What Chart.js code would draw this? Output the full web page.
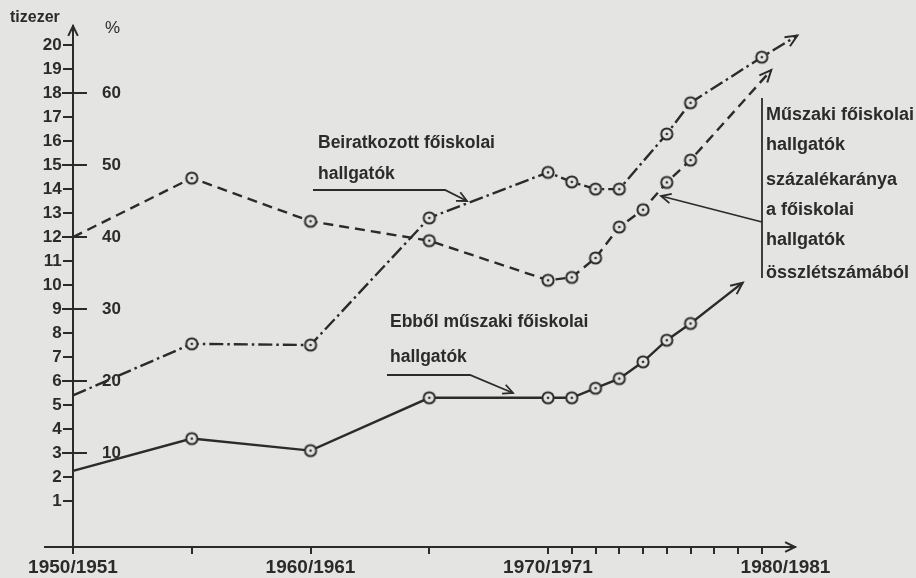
<!DOCTYPE html>
<html>
<head>
<meta charset="utf-8">
<script src="https://cdn.jsdelivr.net/npm/chart.js@4.4.0/dist/chart.umd.min.js"></script>
<style>
  html, body { margin: 0; padding: 0; background: #e4e4e2; }
</style>
</head>
<body>
<canvas id="chart" width="916" height="578"></canvas>
<script>
// Beiratkozott főiskolai hallgatók (tízezer fő), last entry = trend arrow tip
const totalYears = [1950, 1955, 1960, 1965, 1970, 1971, 1972, 1973, 1975, 1976, 1979, 1980.5];
const totalStudents = [5.4, 7.55, 7.5, 12.8, 14.7, 14.3, 14.0, 14.0, 16.3, 17.6, 19.5, 20.4];

// Ebből műszaki főiskolai hallgatók (tízezer fő)
const techYears = [1950, 1955, 1960, 1965, 1970, 1971, 1972, 1973, 1974, 1975, 1976, 1978.2];
const techStudents = [2.25, 3.6, 3.1, 5.3, 5.3, 5.3, 5.7, 6.1, 6.8, 7.7, 8.4, 10.1];

// Műszaki hallgatók százalékaránya (%)
const shareYears = [1950, 1955, 1960, 1965, 1970, 1971, 1972, 1973, 1974, 1975, 1976, 1979.4];
const techShare = [40, 48.2, 42.2, 39.5, 34, 34.4, 37.1, 41.4, 43.8, 47.6, 50.7, 63.2];

// axes
const xTicks = [1950, 1955, 1960, 1965, 1970, 1971, 1972, 1973, 1974, 1975, 1976, 1977, 1978, 1979, 1980];
const xLabels = { 1950: '1950/1951', 1960: '1960/1961', 1970: '1970/1971', 1980: '1980/1981' };
const yTicks = [1, 2, 3, 4, 5, 6, 7, 8, 9, 10, 11, 12, 13, 14, 15, 16, 17, 18, 19, 20];
const pctTicks = [10, 20, 30, 40, 50, 60];

const ink = '#2b2b2b';
const paper = '#e4e4e2';
const font = "'Liberation Sans', Arial, sans-serif";

// hollow circle with a dot in the middle
function makeMarker() {
    const c = document.createElement('canvas');
    c.width = 16; c.height = 16;
    const g = c.getContext('2d');
    g.beginPath();
    g.arc(8, 8, 5.6, 0, Math.PI * 2);
    g.fillStyle = paper;
    g.fill();
    g.lineWidth = 2;
    g.strokeStyle = ink;
    g.stroke();
    g.beginPath();
    g.arc(8, 8, 1.3, 0, Math.PI * 2);
    g.fillStyle = ink;
    g.fill();
    return c;
}
const marker = makeMarker();

function toPoints(xs, ys) {
    return xs.map((x, i) => ({ x: x, y: ys[i] }));
}
function radii(list) {
    return list.map((_, i) => (i === 0 || i === list.length - 1) ? 0 : 6);
}

function arrowHead(ctx, x, y, ang, len, spread) {
    ctx.beginPath();
    ctx.moveTo(x - len * Math.cos(ang - spread), y - len * Math.sin(ang - spread));
    ctx.lineTo(x, y);
    ctx.lineTo(x - len * Math.cos(ang + spread), y - len * Math.sin(ang + spread));
    ctx.stroke();
}

function pointer(ctx, pts) {
    ctx.beginPath();
    ctx.moveTo(pts[0][0], pts[0][1]);
    for (let i = 1; i < pts.length; i++) ctx.lineTo(pts[i][0], pts[i][1]);
    ctx.stroke();
    const a = pts[pts.length - 2], b = pts[pts.length - 1];
    arrowHead(ctx, b[0], b[1], Math.atan2(b[1] - a[1], b[0] - a[0]), 11, 0.45);
}

const decorations = {
    id: 'decorations',
    beforeDraw(chart) {
        const ctx = chart.ctx;
        ctx.save();
        ctx.fillStyle = paper;
        ctx.fillRect(0, 0, chart.width, chart.height);
        ctx.restore();
    },
    afterDatasetsDraw(chart) {
        // arrow heads at the end of each line
        const ctx = chart.ctx;
        ctx.save();
        ctx.strokeStyle = ink;
        ctx.lineWidth = 2;
        ctx.setLineDash([]);
        chart.data.datasets.forEach((ds, i) => {
            const pts = chart.getDatasetMeta(i).data;
            const b = pts[pts.length - 1], a = pts[pts.length - 2];
            arrowHead(ctx, b.x, b.y, Math.atan2(b.y - a.y, b.x - a.x), 13, 0.42);
        });
        ctx.restore();
    },
    afterDraw(chart) {
        const ctx = chart.ctx;
        const area = chart.chartArea;
        const xs = chart.scales.x;
        ctx.save();
        ctx.strokeStyle = ink;
        ctx.fillStyle = ink;
        ctx.lineWidth = 2;

        // axis arrows
        arrowHead(ctx, xs.getPixelForValue(1950), area.top, -Math.PI / 2, 11, 0.45);
        arrowHead(ctx, area.right, area.bottom, 0, 11, 0.45);

        // axis titles
        ctx.textBaseline = 'middle';
        ctx.textAlign = 'left';
        ctx.font = 'bold 16px ' + font;
        ctx.fillText('tizezer', 10, 18);
        ctx.font = '17px ' + font;
        ctx.fillText('%', 105, 28);

        // annotations
        ctx.font = 'bold 17.5px ' + font;
        ctx.fillText('Beiratkozott főiskolai', 318, 143);
        ctx.fillText('hallgatók', 318, 174);
        ctx.fillText('Ebből műszaki főiskolai', 390, 322);
        ctx.fillText('hallgatók', 390, 357);

        ctx.font = 'bold 18px ' + font;
        const box = ['Műszaki főiskolai', 'hallgatók', 'százalékaránya', 'a főiskolai', 'hallgatók', 'összlétszámából'];
        const boxY = [115, 145, 180, 210, 240, 273];
        box.forEach((t, i) => ctx.fillText(t, 766, boxY[i]));

        ctx.lineWidth = 1.8;
        pointer(ctx, [[313, 190], [445, 190], [467, 201]]);
        pointer(ctx, [[387, 375], [470, 375], [513, 393]]);
        ctx.beginPath();
        ctx.moveTo(762, 98);
        ctx.lineTo(762, 278);
        ctx.stroke();
        pointer(ctx, [[762, 222], [661, 196]]);
        ctx.restore();
    }
};

const yMin = -0.92, yMax = 20.8;
const pctMin = yMin * 10 / 3, pctMax = yMax * 10 / 3;
const tickFont = { family: font, size: 17, weight: 'bold' };

new Chart(document.getElementById('chart'), {
    type: 'line',
    data: {
        datasets: [
            {
                label: 'Beiratkozott főiskolai hallgatók',
                data: toPoints(totalYears, totalStudents),
                yAxisID: 'y',
                borderColor: ink,
                borderWidth: 2.4,
                borderDash: [14, 4, 2.5, 4],
                pointStyle: marker,
                pointRadius: radii(totalYears),
                tension: 0,
                clip: false
            },
            {
                label: 'Ebből műszaki főiskolai hallgatók',
                data: toPoints(techYears, techStudents),
                yAxisID: 'y',
                borderColor: ink,
                borderWidth: 2.4,
                pointStyle: marker,
                pointRadius: radii(techYears),
                tension: 0,
                clip: false
            },
            {
                label: 'Műszaki főiskolai hallgatók százalékaránya',
                data: toPoints(shareYears, techShare),
                yAxisID: 'pct',
                borderColor: ink,
                borderWidth: 2.4,
                borderDash: [10, 6],
                pointStyle: marker,
                pointRadius: radii(shareYears),
                tension: 0,
                clip: false
            }
        ]
    },
    options: {
        responsive: false,
        animation: false,
        devicePixelRatio: 1,
        layout: { padding: { left: 45, right: 121, top: 26, bottom: 0 } },
        plugins: { legend: { display: false }, tooltip: { enabled: false } },
        scales: {
            x: {
                type: 'linear',
                axis: 'x',
                position: 'bottom',
                min: 1948.82,
                max: 1980.4,
                afterBuildTicks: s => { s.ticks = xTicks.map(v => ({ value: v })); },
                afterFit: s => { s.height = 31; },
                ticks: {
                    autoSkip: false,
                    maxRotation: 0,
                    padding: 2,
                    color: ink,
                    font: { family: font, size: 19, weight: 'bold' },
                    callback: v => xLabels[v] || ''
                },
                grid: {
                    drawOnChartArea: false,
                    tickLength: 7,
                    lineWidth: 2,
                    color: c => (c.tick && c.tick.value === 1980) ? 'rgba(0,0,0,0)' : ink
                },
                border: { color: ink, width: 2 }
            },
            y: {
                type: 'linear',
                axis: 'y',
                position: { x: 1950 },
                min: yMin,
                max: yMax,
                afterBuildTicks: s => { s.ticks = yTicks.map(v => ({ value: v })); },
                ticks: { display: false },
                grid: { drawOnChartArea: false, tickLength: 9, lineWidth: 2, color: ink },
                border: { color: ink, width: 2 }
            },
            yNum: {
                type: 'linear',
                axis: 'y',
                position: { x: 1949.52 },
                min: yMin,
                max: yMax,
                afterBuildTicks: s => { s.ticks = yTicks.map(v => ({ value: v })); },
                ticks: { color: ink, font: tickFont, padding: 0 },
                grid: { drawOnChartArea: false, drawTicks: false },
                border: { display: false }
            },
            pct: {
                type: 'linear',
                axis: 'y',
                position: { x: 1950.59 },
                min: pctMin,
                max: pctMax,
                afterBuildTicks: s => { s.ticks = pctTicks.map(v => ({ value: v })); },
                ticks: { display: false },
                grid: { drawOnChartArea: false, tickLength: 25, lineWidth: 2, color: ink },
                border: { display: false }
            },
            pctNum: {
                type: 'linear',
                axis: 'y',
                position: { x: 1952.02 },
                min: pctMin,
                max: pctMax,
                afterBuildTicks: s => { s.ticks = pctTicks.map(v => ({ value: v })); },
                ticks: { color: ink, font: tickFont, padding: 0 },
                grid: { drawOnChartArea: false, drawTicks: false },
                border: { display: false }
            }
        }
    },
    plugins: [decorations]
});
</script>
</body>
</html>
